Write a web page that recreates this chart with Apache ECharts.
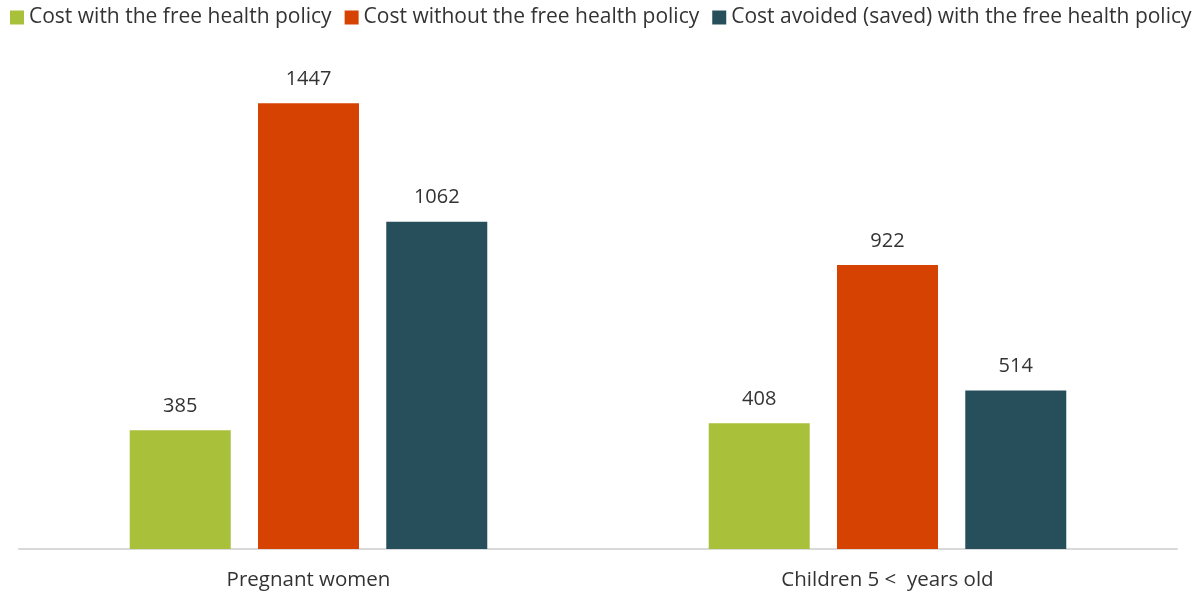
<!DOCTYPE html>
<html>
<head>
<meta charset="utf-8">
<script src="https://cdn.jsdelivr.net/npm/echarts@6/dist/echarts.min.js"></script>
<style>
  html, body { margin: 0; padding: 0; background: #ffffff; }
  #chart { width: 1204px; height: 596px; }
</style>
</head>
<body>
<div id="chart"></div>
<script>
// Population groups on the x axis
const categories = ['Pregnant women', 'Children 5 <  years old'];

// Costs per group
const costWith = [385, 408];
const costWithout = [1447, 922];
const costAvoided = [1062, 514];

const seriesNames = [
  'Cost with the free health policy',
  'Cost without the free health policy',
  'Cost avoided (saved) with the free health policy'
];
const seriesColors = ['#a9c03a', '#d64202', '#264f5b'];

const fontFamily = "'Open Sans', 'Noto Sans', sans-serif";
const textColor = '#333333';

function barSeries(name, data, color) {
  return {
    name: name,
    type: 'bar',
    data: data,
    barWidth: 101,
    barGap: '27%',
    itemStyle: { color: color },
    label: {
      show: true,
      position: 'top',
      distance: 14,
      color: textColor,
      fontSize: 20,
      fontFamily: fontFamily
    }
  };
}

const chart = echarts.init(document.getElementById('chart'), null, { renderer: 'canvas' });
chart.setOption({
  animation: false,
  legend: {
    top: 2,
    left: 5,
    itemWidth: 14,
    itemHeight: 14,
    itemGap: 13,
    icon: 'rect',
    textStyle: { color: textColor, fontSize: 21, fontFamily: fontFamily },
    data: seriesNames
  },
  grid: { left: 19, right: 27, top: 56, bottom: 47 },
  xAxis: {
    type: 'category',
    data: categories,
    axisLine: { lineStyle: { color: '#d9d9d9', width: 2 } },
    axisTick: { show: false },
    axisLabel: { color: textColor, fontSize: 20.5, fontFamily: fontFamily, margin: 21 }
  },
  yAxis: {
    type: 'value',
    min: 0,
    max: 1600,
    show: false,
    splitLine: { show: false }
  },
  series: [
    barSeries(seriesNames[0], costWith, seriesColors[0]),
    barSeries(seriesNames[1], costWithout, seriesColors[1]),
    barSeries(seriesNames[2], costAvoided, seriesColors[2])
  ]
});
</script>
</body>
</html>
